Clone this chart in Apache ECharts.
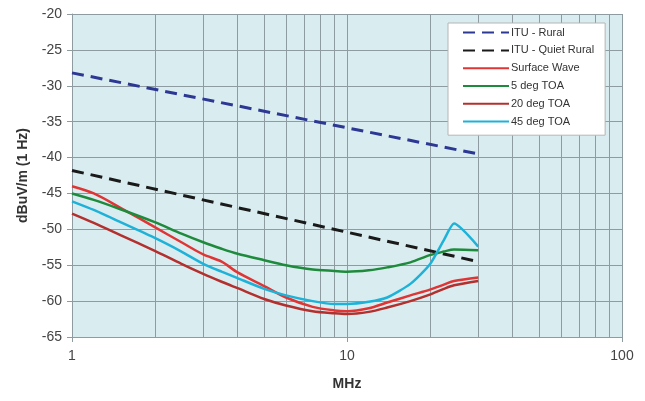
<!DOCTYPE html>
<html>
<head>
<meta charset="utf-8">
<script src="https://cdn.jsdelivr.net/npm/echarts@6/dist/echarts.min.js"></script>
<style>
html,body{margin:0;padding:0;background:#fff;}
#c{width:645px;height:401px;}
</style>
</head>
<body>
<div id="c"></div>
<script>
// Frequencies (MHz)
var freqs = [1, 1.2, 1.5, 2, 2.5, 3, 3.5, 4, 5, 6, 7.5, 9, 10, 12, 14, 17, 20, 22.5, 24.5, 30];
var ituFreqs = [1, 30];
var ituRural = [-28.2, -39.5];
var ituQuietRural = [-41.8, -54.5];
var surfaceWave = [-44.0, -45.0, -47.0, -49.7, -51.8, -53.5, -54.5, -56.0, -57.9, -59.5, -60.8, -61.3, -61.4, -61.0, -60.2, -59.2, -58.4, -57.7, -57.2, -56.7];
var toa5 = [-45.0, -45.9, -47.2, -49.0, -50.6, -51.8, -52.7, -53.4, -54.3, -55.0, -55.6, -55.8, -55.9, -55.7, -55.3, -54.6, -53.6, -53.1, -52.8, -52.9];
var toa20 = [-47.8, -49.1, -50.8, -53.0, -54.8, -56.2, -57.3, -58.2, -59.7, -60.6, -61.4, -61.7, -61.8, -61.5, -60.9, -60.0, -59.1, -58.3, -57.8, -57.2];
var toa45 = [-46.1, -47.3, -49.0, -51.2, -53.1, -54.8, -55.9, -56.8, -58.3, -59.2, -60.0, -60.4, -60.4, -60.1, -59.5, -57.6, -54.9, -51.5, -49.2, -52.4];
var minorGridX = [2, 3, 4, 5, 6, 7, 8, 9, 20, 30, 40, 50, 60, 70, 80, 90];
var seriesNames = ['ITU - Rural', 'ITU - Quiet Rural', 'Surface Wave', '5 deg TOA', '20 deg TOA', '45 deg TOA'];

function pairs(xs, ys) { return xs.map(function (x, i) { return [x, ys[i]]; }); }

var gridColor = '#8e9ca1';
var chart = echarts.init(document.getElementById('c'), null, {renderer: 'canvas'});

function lineSeries(name, xs, ys, color, dashed, smooth) {
  return {
    name: name, type: 'line', data: pairs(xs, ys), showSymbol: false, symbol: 'none',
    smooth: smooth, z: 3,
    lineStyle: {color: color, width: dashed ? 3 : 2.5, type: dashed ? [12, 7] : 'solid'},
    itemStyle: {color: color}
  };
}

chart.setOption({
  animation: false,
  backgroundColor: '#fff',
  textStyle: {fontFamily: 'Liberation Sans, Arial, sans-serif'},
  grid: {left: 72, right: 23, top: 14, bottom: 64, show: true, backgroundColor: '#d9edf0', borderWidth: 0},
  legend: {
    orient: 'vertical', left: 448, top: 23,
    data: seriesNames,
    itemWidth: 46, itemHeight: 14, itemGap: 6.6,
    padding: [4, 11, 8, 14],
    backgroundColor: '#fff', borderColor: '#b5b5b5', borderWidth: 1,
    itemStyle: {color: 'rgba(0,0,0,0)', borderWidth: 0, opacity: 0},
    textStyle: {fontSize: 11, color: '#333', padding: [0, 0, 0, -3]}
  },
  xAxis: {
    type: 'log', logBase: 10, min: 1, max: 100,
    name: 'MHz', nameLocation: 'middle', nameGap: 40,
    nameTextStyle: {fontSize: 14, fontWeight: 'bold', color: '#333'},
    axisLine: {show: true, lineStyle: {color: gridColor}},
    axisTick: {show: true, length: 5, lineStyle: {color: gridColor}},
    axisLabel: {fontSize: 14, color: '#444', margin: 12},
    splitLine: {show: true, lineStyle: {color: gridColor, width: 1}},
    minorTick: {show: false}, minorSplitLine: {show: false}
  },
  yAxis: {
    type: 'value', min: -65, max: -20, interval: 5,
    name: 'dBuV/m (1 Hz)', nameLocation: 'middle', nameGap: 42,
    nameTextStyle: {fontSize: 14, fontWeight: 'bold', color: '#333'},
    axisLine: {show: true, lineStyle: {color: gridColor}},
    axisTick: {show: true, length: 5, lineStyle: {color: gridColor}},
    axisLabel: {fontSize: 14, color: '#444', margin: 10},
    splitLine: {show: true, lineStyle: {color: gridColor, width: 1}}
  },
  series: [
    {
      name: '_grid', type: 'line', data: [], z: 1, silent: true,
      markLine: {
        silent: true, symbol: ['none', 'none'], z: 1, animation: false,
        label: {show: false},
        lineStyle: {color: gridColor, width: 1, type: 'solid'},
        emphasis: {disabled: true},
        data: minorGridX.map(function (v) { return {xAxis: v}; })
      }
    },
    lineSeries(seriesNames[0], ituFreqs, ituRural, '#2c3894', true, false),
    lineSeries(seriesNames[1], ituFreqs, ituQuietRural, '#1a1a1a', true, false),
    lineSeries(seriesNames[2], freqs, surfaceWave, '#e03535', false, 0.3),
    lineSeries(seriesNames[3], freqs, toa5, '#1e8a3c', false, 0.3),
    lineSeries(seriesNames[4], freqs, toa20, '#b3302e', false, 0.3),
    lineSeries(seriesNames[5], freqs, toa45, '#1eb2d8', false, 0.2)
  ]
});
</script>
</body>
</html>
